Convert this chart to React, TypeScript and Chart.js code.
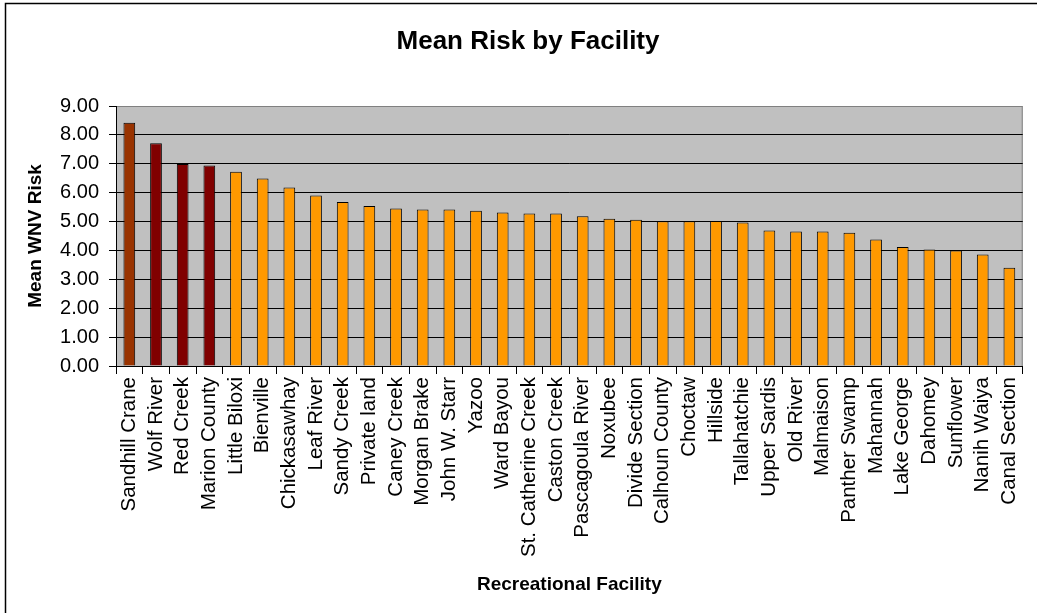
import React, { useEffect, useRef } from 'react';
import { Chart, registerables } from 'chart.js';

Chart.register(...registerables);

const facilities: string[] = [
  'Sandhill Crane', 'Wolf River', 'Red Creek', 'Marion County', 'Little Biloxi',
  'Bienville', 'Chickasawhay', 'Leaf River', 'Sandy Creek', 'Private land',
  'Caney Creek', 'Morgan Brake', 'John W. Starr', 'Yazoo', 'Ward Bayou',
  'St. Catherine Creek', 'Caston Creek', 'Pascagoula River', 'Noxubee', 'Divide Section',
  'Calhoun County', 'Choctaw', 'Hillside', 'Tallahatchie', 'Upper Sardis',
  'Old River', 'Malmaison', 'Panther Swamp', 'Mahannah', 'Lake George',
  'Dahomey', 'Sunflower', 'Nanih Waiya', 'Canal Section',
];

const meanRisk: number[] = [
  8.42, 7.71, 6.99, 6.94, 6.72,
  6.49, 6.18, 5.90, 5.68, 5.54,
  5.45, 5.42, 5.42, 5.37, 5.31,
  5.28, 5.28, 5.18, 5.10, 5.06,
  5.01, 5.01, 5.02, 4.97, 4.69,
  4.66, 4.66, 4.61, 4.38, 4.12,
  4.03, 4.00, 3.86, 3.40,
];

const yMin = 0;
const yMax = 9;
const yStep = 1;

const chartTitle = 'Mean Risk by Facility';
const yTitle = 'Mean WNV Risk';
const xTitle = 'Recreational Facility';

const FONT = '"Liberation Sans", Arial, sans-serif';
const W = 1037;
const H = 613;

function barColor(i: number): string {
  if (i === 0) return '#993300';
  if (i >= 1 && i <= 3) return '#800000';
  return '#FF9900';
}

const framePlugin = {
  id: 'frame',
  beforeDraw(chart: any) {
    const { ctx, chartArea: a } = chart;
    ctx.save();
    ctx.fillStyle = '#FFFFFF';
    ctx.fillRect(0, 0, W, H);
    ctx.fillStyle = '#C0C0C0';
    ctx.fillRect(a.left, a.top, a.right - a.left, a.bottom - a.top);
    ctx.strokeStyle = '#808080';
    ctx.lineWidth = 1;
    ctx.beginPath();
    ctx.moveTo(a.left, a.top + 0.5);
    ctx.lineTo(a.right - 0.5, a.top + 0.5);
    ctx.lineTo(a.right - 0.5, a.bottom);
    ctx.stroke();
    ctx.strokeStyle = '#000000';
    ctx.lineWidth = 1.5;
    ctx.beginPath();
    ctx.moveTo(5.5, H);
    ctx.lineTo(5.5, 3.5);
    ctx.lineTo(W, 3.5);
    ctx.stroke();
    ctx.restore();
  },
  afterDraw(chart: any) {
    const { ctx } = chart;
    ctx.save();
    ctx.fillStyle = '#000000';
    ctx.font = `bold 26px ${FONT}`;
    ctx.textAlign = 'center';
    ctx.textBaseline = 'alphabetic';
    ctx.fillText(chartTitle, 528, 49);
    ctx.restore();
  },
};

export default function App() {
  const canvasRef = useRef<HTMLCanvasElement | null>(null);

  useEffect(() => {
    const canvas = canvasRef.current;
    if (!canvas) return;
    const chart = new Chart(canvas, {
      type: 'bar',
      data: {
        labels: facilities,
        datasets: [
          {
            label: yTitle,
            data: meanRisk,
            backgroundColor: facilities.map((_, i) => barColor(i)),
            borderColor: '#000000',
            borderWidth: 1,
            categoryPercentage: 1,
            barPercentage: 0.44,
          },
        ],
      },
      options: {
        responsive: false,
        animation: false,
        devicePixelRatio: 1,
        layout: { padding: { top: 106, right: 1, left: 0, bottom: 0 } },
        plugins: {
          legend: { display: false },
          title: { display: false },
          tooltip: { enabled: false },
        },
        scales: {
          x: {
            type: 'category',
            offset: true,
            grid: {
              offset: true,
              drawOnChartArea: false,
              drawTicks: true,
              tickLength: 8,
              color: '#000000',
              tickColor: '#000000',
            },
            border: { display: true, color: '#000000', width: 1 },
            ticks: {
              autoSkip: false,
              minRotation: 90,
              maxRotation: 90,
              padding: 3,
              color: '#000000',
              font: { family: FONT, size: 20.5 },
            },
            title: {
              display: true,
              text: xTitle,
              color: '#000000',
              font: { family: FONT, size: 19, weight: 'bold' },
              padding: { top: 0, bottom: 16.5 },
            },
            afterFit(scale: any) {
              scale.height = H - 366;
            },
          },
          y: {
            min: yMin,
            max: yMax,
            grid: {
              drawTicks: true,
              tickLength: 7,
              color: (c: any) => (c.tick && c.tick.value === yMax ? '#808080' : '#000000'),
              tickColor: '#000000',
              lineWidth: 1,
            },
            border: { display: true, color: '#000000', width: 1 },
            ticks: {
              stepSize: yStep,
              padding: 10,
              color: '#000000',
              font: { family: FONT, size: 20 },
              callback: (v: any) => Number(v).toFixed(2),
            },
            title: {
              display: true,
              text: yTitle,
              color: '#000000',
              font: { family: FONT, size: 19, weight: 'bold' },
              padding: { top: 24.5, bottom: 0 },
            },
            afterFit(scale: any) {
              scale.width = 116;
            },
          },
        },
      },
      plugins: [framePlugin],
    });
    return () => chart.destroy();
  }, []);

  return (
    <div style={{ position: 'absolute', left: 0, top: 0, width: W, height: H, background: '#fff' }}>
      <canvas ref={canvasRef} width={W} height={H} style={{ display: 'block', width: W, height: H }} />
    </div>
  );
}
